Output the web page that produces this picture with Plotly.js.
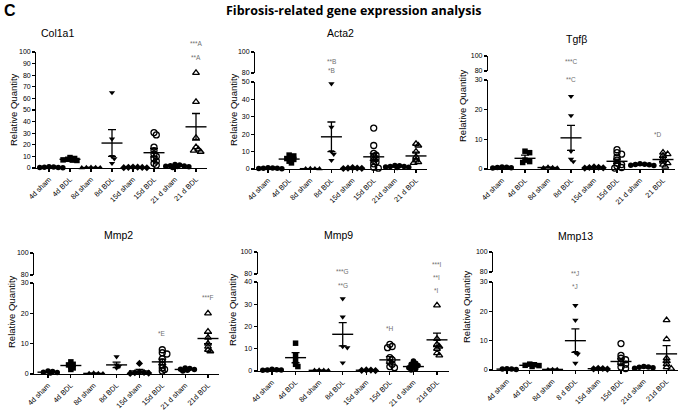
<!DOCTYPE html>
<html><head><meta charset="utf-8">
<script src="https://cdn.plot.ly/plotly-3.0.1.min.js"></script>
<style>html,body{margin:0;padding:0;background:#fff}#chart{width:678px;height:419px}</style>
</head><body><div id="chart"></div>
<script>
// ---------- DATA ----------
const groupNames = ["4d sham","4d BDL","8d sham","8d BDL","15d sham","15d BDL","21d sham","21d BDL"];
const groupSymbols = ["circle","square","triangle-up","triangle-down","diamond","circle-open","circle","triangle-up-open"];

const col1a1Labels = ["4d sham","4d BDL","8d sham","8d BDL","15d sham","15d BDL","21 d sham","21 d BDL"];
const col1a1Values = [
  [0.2,0.5,0.8,1.0,0.4,0.6,0.3],
  [9.0,8.2,7.5,7.0,6.5,6.8],
  [0.2,0.4,0.6,0.3,0.5],
  [65,25,10,8,4],
  [0.3,0.6,0.9,0.5,0.2,0.7],
  [30.5,28.5,18,15,12,10,8,6,4,2.5],
  [0.5,1,1.5,2,2.5,3,1.8,1.2],
  [82,57,26,18,16,15,14]
];
const col1a1Means = [0.5,7.5,0.4,21.5,0.5,13.2,1.7,35.5];
const col1a1Sems  = [0.1,0.5,0.1,11.5,0.1,3.6,0.3,11.5];
const col1a1Sig = ["***A","**A"];

const acta2Labels = ["4d sham","4d BDL","8d sham","8d BDL","15d sham","15d BDL","21d sham","21 d BDL"];
const acta2Values = [
  [0.3,0.5,0.7,0.4,0.6,0.2],
  [8,7.5,6.5,6,5.5,4.5,3.5],
  [0.1,0.2,0.3,0.2],
  [49,24,10,8.5,5],
  [0.3,0.5,0.8,0.4,0.6],
  [23.5,13.5,9,8,7,6,5,4,3,1,0.5],
  [0.8,1.2,1.5,2,1.8,1.0,1.4],
  [14.5,13.5,10,7,5,4,3.5]
];
const acta2Means = [0.5,5.7,0.2,18.5,0.5,7.0,1.4,7.5];
const acta2Sems  = [0.1,0.8,0.05,8.5,0.1,2.0,0.2,2.2];
const acta2Sig = ["**B","*B"];

const tgfbLabels = ["4d sham","4d BDL","8d sham","8d BDL","15d sham","15d BDL","21 d sham","21 BDL"];
const tgfbValues = [
  [0.3,0.5,0.7,0.6,0.4],
  [6,5.5,3,2.5,2.2],
  [0.3,0.5,0.7,0.4],
  [24.5,18,6,3.3,2.5],
  [0.3,0.5,0.7,0.4,0.6],
  [6.5,5.5,5,4,3,2,1.5,1,0.5,0.3],
  [1.2,1.5,1.8,1.4,1.6,1.3],
  [5.5,5,4.5,3.5,2.5,2,1.5,0.8]
];
const tgfbMeans = [0.5,3.6,0.5,10.5,0.5,2.6,1.5,3.2];
const tgfbSems  = [0.1,1.1,0.1,4.2,0.1,0.7,0.1,0.7];
const tgfbSig = ["***C","**C","*D"];

const mmp2Labels = ["4d sham","4d BDL","8d sham","8d BDL","15d sham","15d BDL","21 d sham","21d BDL"];
const mmp2Values = [
  [0.3,0.5,0.8,1,0.6],
  [4,3.2,3,2.5,2,1.5],
  [0.1,0.2,0.3,0.2],
  [5.7,3,2.5,2],
  [3.5,0.5,0.3,0.6,0.4,0.2],
  [8,7,6.6,5,4,3,2,1.5,1],
  [1,1.5,2,1.8,1.2,1.6],
  [20,14,12,10,9,8,7.5]
];
const mmp2Means = [0.6,2.8,0.2,3.0,1.0,4.0,1.5,11.7];
const mmp2Sems  = [0.1,0.4,0.05,0.9,0.5,0.9,0.15,1.7];
const mmp2Sig = ["*E","***F"];

const mmp9Labels = ["4d sham","4d BDL","8d sham","8d BDL","15d sham","15d BDL","21 d sham","21d BDL"];
const mmp9Values = [
  [0.3,0.5,0.8,0.6,0.4],
  [12.5,7,5,3,2],
  [0.2,0.3,0.4,0.3],
  [32.5,24.3,11,10.5,3.7],
  [0.2,0.4,0.3,0.5],
  [12,11,10.5,6,5,4,3,2,1.5],
  [4.5,3.5,3,2.5,2,1.5,1,0.5],
  [29.5,14.5,12,11,10,8,7]
];
const mmp9Means = [0.5,6.0,0.3,16.5,0.35,5.0,2.0,14.0];
const mmp9Sems  = [0.1,2.3,0.05,5.2,0.05,1.5,0.5,3.0];
const mmp9Sig = ["***G","**G","*H","***I","**I","*I"];

const mmp13Labels = ["4d sham","4d BDL","8d sham","8 d BDL","15d sham","15d BDL","21d sham","21d BDL"];
const mmp13Values = [
  [0.2,0.3,0.4,0.3],
  [2,1.8,1.5,1.2,1.6],
  [0.1,0.2,0.2],
  [22,17,6,5.4,2.3],
  [0.3,0.5,0.6,0.4],
  [9,5,4,3.5,2.5,2,1,0.5],
  [0.6,0.8,1,1.2,0.9],
  [17,10.5,4,3,2,1,0.5]
];
const mmp13Means = [0.3,1.6,0.2,10.0,0.45,2.9,0.9,5.5];
const mmp13Sems  = [0.05,0.2,0.05,4.0,0.1,0.9,0.1,2.8];
const mmp13Sig = ["**J","*J"];

// ---------- LAYOUT CONFIG (pixel geometry) ----------
const W = 678, H = 419;
const panels = [
  {title:"Col1a1", labels:col1a1Labels, values:col1a1Values, means:col1a1Means, sems:col1a1Sems,
   lowMax:100, lowTicks:[0,10,20,30,40,50,60,70,80,90,100], broken:false,
   box:{c0:49,c7:196,py0:168,pyTop:52}, tpos:[57,33], ytpos:[13,110],
   sig:[[7,43],[7,57]], sigText:col1a1Sig},
  {title:"Acta2", labels:acta2Labels, values:acta2Values, means:acta2Means, sems:acta2Sems,
   lowMax:50, lowTicks:[0,10,20,30,40,50], broken:true,
   box:{c0:268,c7:416,py0:169,pyTop:82,py80:73,py100:52}, tpos:[340,33], ytpos:[233,110],
   sig:[[3,61],[3,70]], sigText:acta2Sig},
  {title:"Tgfβ", labels:tgfbLabels, values:tgfbValues, means:tgfbMeans, sems:tgfbSems,
   lowMax:30, lowTicks:[0,10,20,30], broken:true,
   box:{c0:502,c7:663,py0:169,pyTop:80,py80:71,py100:56}, tpos:[576,39], ytpos:[462,105],
   sig:[[3,62],[3,79],[6.8,134]], sigText:tgfbSig},
  {title:"Mmp2", labels:mmp2Labels, values:mmp2Values, means:mmp2Means, sems:mmp2Sems,
   lowMax:30, lowTicks:[0,10,20,30], broken:true,
   box:{c0:48,c7:208,py0:374,pyTop:283,py80:275,py100:253}, tpos:[118,235], ytpos:[11,312],
   sig:[[5,333],[7,297]], sigText:mmp2Sig},
  {title:"Mmp9", labels:mmp9Labels, values:mmp9Values, means:mmp9Means, sems:mmp9Sems,
   lowMax:40, lowTicks:[0,10,20,30,40], broken:true,
   box:{c0:272,c7:437,py0:371,pyTop:282,py80:274,py100:252}, tpos:[338,235], ytpos:[232,310],
   sig:[[3,271],[3,285],[5,328],[7,264],[7,277],[7,290]], sigText:mmp9Sig},
  {title:"Mmp13", labels:mmp13Labels, values:mmp13Values, means:mmp13Means, sems:mmp13Sems,
   lowMax:30, lowTicks:[0,10,20,30], broken:true,
   box:{c0:507,c7:667,py0:370,pyTop:282,py80:272,py100:252}, tpos:[575,236], ytpos:[466,307],
   sig:[[3,273],[3,286]], sigText:mmp13Sig}
];

const FONT = "Liberation Sans, Arial, sans-serif";
const MS = 5.5;

function swarm(vals, g, pxU, sp) {
  const idx = vals.map((v,i)=>i).sort((a,b)=>vals[b]-vals[a]);
  const placed = []; const xs = new Array(vals.length);
  const step = MS*0.42, minD = MS*0.5;
  idx.forEach(i=>{
    const py = vals[i]*pxU; let off = 0;
    for (let n=0; n<30; n++) {
      off = n===0 ? 0 : (n%2 ? 1 : -1)*Math.ceil(n/2)*step;
      if (placed.every(q=>Math.hypot(q[0]-off, q[1]-py) >= minD)) break;
    }
    placed.push([off,py]); xs[i] = g + off/sp;
  });
  return xs;
}

const traces = [];
const annotations = [];
const layout = {
  width:W, height:H, margin:{l:0,r:0,t:0,b:0}, showlegend:false,
  paper_bgcolor:"#fff", plot_bgcolor:"rgba(0,0,0,0)", font:{family:FONT, color:"#000"}
};
let yCount = 0;
const axCommon = {showgrid:false, zeroline:false, showline:true, linecolor:"#000", linewidth:1.3,
  ticks:"outside", ticklen:3, tickwidth:1.2, tickcolor:"#000", tickfont:{size:7, family:FONT, color:"#000"}, fixedrange:true};

panels.forEach((p,i)=>{
  const xn = i===0 ? "" : String(i+1);
  const xid = "x"+xn;
  yCount++; const yln = yCount===1 ? "" : String(yCount); const ylid = "y"+yln;
  const b = p.box;
  const sp = (b.c7-b.c0)/7;
  const xr = [-0.6, 7.5];
  layout["xaxis"+xn] = Object.assign({}, axCommon, {
    domain:[(b.c0+xr[0]*sp)/W, (b.c0+xr[1]*sp)/W], range:xr, anchor:ylid,
    tickmode:"array", tickvals:[0,1,2,3,4,5,6,7], ticktext:p.labels, tickangle:-45,
    tickfont:{size:7.3, family:FONT, color:"#000"}
  });
  layout["yaxis"+yln] = Object.assign({}, axCommon, {
    domain:[1-b.py0/H, 1-b.pyTop/H], range:[0,p.lowMax], anchor:xid,
    tickmode:"array", tickvals:p.lowTicks, ticktext:p.lowTicks.map(String)
  });
  if (p.broken) {
    yCount++; const yun = String(yCount);
    layout["yaxis"+yun] = Object.assign({}, axCommon, {
      domain:[1-b.py80/H, 1-b.py100/H], range:[80,100], anchor:xid,
      tickmode:"array", tickvals:[80,100], ticktext:["80","100"]
    });
    traces.push({type:"scatter", mode:"markers", xaxis:xid, yaxis:"y"+yun, x:[0], y:[90],
      marker:{size:1, opacity:0}, hoverinfo:"skip"});
  }
  const pxU = (b.py0-b.pyTop)/p.lowMax;
  p.values.forEach((vals,g)=>{
    const sym = groupSymbols[g];
    const open = sym.indexOf("open")>=0;
    traces.push({
      type:"scatter", mode:"markers", xaxis:xid, yaxis:ylid, cliponaxis:false,
      x: swarm(vals, g, pxU, sp), y: vals, name: groupNames[g], hoverinfo:"y",
      marker:{symbol:sym, size: open ? MS+0.5 : MS, color:"#000", line:{color:"#000", width: open ? 1.3 : 0}}
    });
  });
  traces.push({
    type:"scatter", mode:"markers", xaxis:xid, yaxis:ylid, cliponaxis:false,
    x:[0,1,2,3,4,5,6,7], y:p.means, hoverinfo:"y",
    marker:{symbol:"line-ew", size:15, color:"#000", line:{color:"#000", width:1.4}},
    error_y:{type:"data", array:p.sems, visible:true, color:"#000", thickness:1.3, width:4}
  });
  annotations.push({xref:"paper", yref:"paper", x:p.tpos[0]/W, y:1-p.tpos[1]/H, text:p.title,
    showarrow:false, xanchor:"center", yanchor:"middle", font:{size:10.5, family:FONT, color:"#000"}});
  annotations.push({xref:"paper", yref:"paper", x:p.ytpos[0]/W, y:1-p.ytpos[1]/H, text:"Relative Quantity",
    showarrow:false, textangle:-90, xanchor:"center", yanchor:"middle", font:{size:9.5, family:FONT, color:"#000"}});
  p.sig.forEach((s,k)=>{
    annotations.push({xref:xid, yref:"paper", x:s[0], y:1-s[1]/H, text:p.sigText[k], showarrow:false,
      xanchor:"center", yanchor:"middle", font:{size:6.5, family:FONT, color:"#707070"}});
  });
});

annotations.push({xref:"paper", yref:"paper", x:353/W, y:1-11/H, text:"<b>Fibrosis-related gene expression analysis</b>",
  showarrow:false, xanchor:"center", yanchor:"middle", font:{size:12.5, family:"Open Sans, sans-serif", color:"#000"}});
annotations.push({xref:"paper", yref:"paper", x:10/W, y:1-11/H, text:"<b>C</b>",
  showarrow:false, xanchor:"center", yanchor:"middle", font:{size:16, family:FONT, color:"#000"}});
layout.annotations = annotations;

Plotly.newPlot("chart", traces, layout, {displayModeBar:false, staticPlot:true});
</script></body></html>
